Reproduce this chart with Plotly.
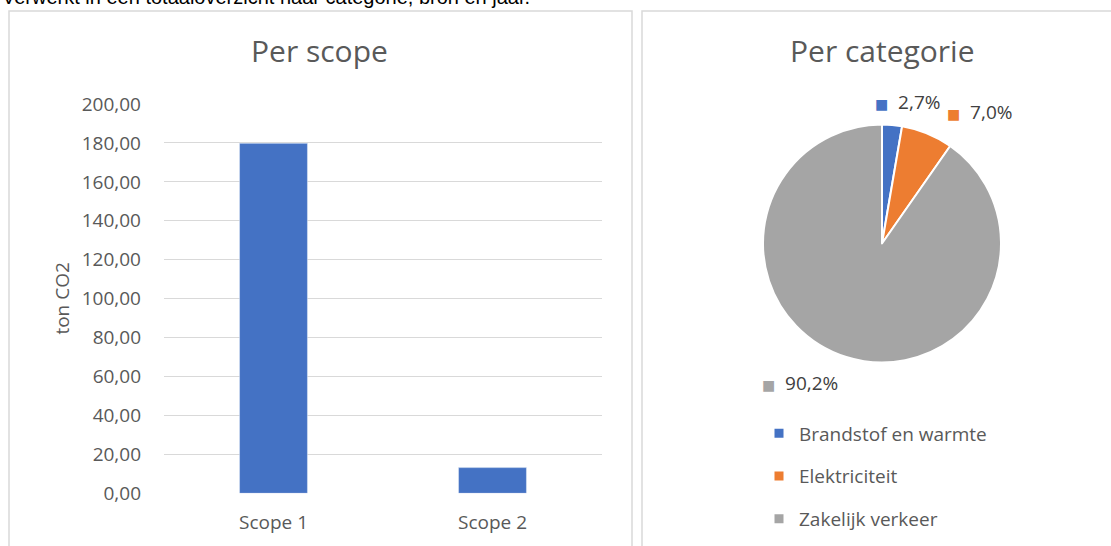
import math
import plotly.graph_objects as go

W, H = 1111, 546

# ---- data ----
scopes = ["Scope 1", "Scope 2"]
scope_values = [179.8, 13.2]
y_ticks = [0, 20, 40, 60, 80, 100, 120, 140, 160, 180, 200]

categories = ["Brandstof en warmte", "Elektriciteit", "Zakelijk verkeer"]
category_shares = [2.7, 7.0, 90.2]
category_colors = ["#4472C4", "#ED7D31", "#A5A5A5"]

intro_text = "Verwerkt in een totaaloverzicht naar categorie, bron en jaar."

# ---- styling ----
FONT = "Open Sans, DejaVu Sans, sans-serif"
GREY_TXT = "#595959"
# pixel nudges for the pie data labels (layout only)
label_nudges = [(-21, -3), (10, -3), (0, 7)]


def px_x(x):
    return x / W


def px_y(y):
    return 1 - y / H


fig = go.Figure()

# ---- bar chart ----
fig.add_trace(go.Bar(
    x=scopes, y=scope_values, marker_color="#4472C4", width=0.31,
    xaxis="x", yaxis="y", showlegend=False,
))

# ---- pie chart ----
cx, cy, r = 882, 243.5, 119
fig.add_trace(go.Pie(
    labels=categories, values=category_shares, sort=False,
    direction="clockwise", rotation=0, textinfo="none",
    marker=dict(colors=category_colors, line=dict(color="white", width=2)),
    domain=dict(x=[px_x(cx - r), px_x(cx + r)], y=[px_y(cy + r), px_y(cy - r)]),
    showlegend=False, hoverinfo="label+percent",
))

# legend entries (square keys)
for cat, col in zip(categories, category_colors):
    fig.add_trace(go.Scatter(
        x=[None], y=[None], mode="markers", name=cat, legendgroup=cat,
        marker=dict(symbol="square", size=9, color=col),
        xaxis="x2", yaxis="y2", showlegend=True,
    ))

annotations = []

# pie data labels, placed from slice mid-angles
total = sum(category_shares)
cum = 0.0
for v, col, (ndx, ndy) in zip(category_shares, category_colors, label_nudges):
    mid = (cum + v / 2) / total
    cum += v
    th = 2 * math.pi * mid
    d = r + 20
    lx = cx + d * math.sin(th) + ndx
    ly = cy - d * math.cos(th) + ndy
    label = f"{v:.1f}".replace(".", ",") + "%"
    annotations.append(dict(
        x=px_x(lx), y=px_y(ly), xref="paper", yref="paper",
        xanchor="left" if math.sin(th) >= 0 else "right", yanchor="middle",
        text=f'<span style="color:{col};font-size:14px;font-family:DejaVu Sans">■</span>  {label}',
        showarrow=False, font=dict(family=FONT, size=19, color="#404040"),
    ))

# titles
annotations.append(dict(x=px_x(319), y=px_y(50), xref="paper", yref="paper",
                        xanchor="center", yanchor="middle", text="Per scope",
                        showarrow=False, font=dict(family=FONT, size=30, color=GREY_TXT)))
annotations.append(dict(x=px_x(882), y=px_y(50), xref="paper", yref="paper",
                        xanchor="center", yanchor="middle", text="Per categorie",
                        showarrow=False, font=dict(family=FONT, size=30, color=GREY_TXT)))
# y-axis title
annotations.append(dict(x=px_x(62), y=px_y(298.6), xref="paper", yref="paper",
                        xanchor="center", yanchor="middle", text="ton CO2", textangle=-90,
                        showarrow=False, font=dict(family=FONT, size=19, color=GREY_TXT)))
# cut-off intro sentence at the very top
annotations.append(dict(x=0, y=px_y(10), xref="paper", yref="paper",
                        xanchor="left", yanchor="bottom", text=intro_text,
                        showarrow=False,
                        font=dict(family="Liberation Sans, Arial, sans-serif", size=20, color="#000000")))

# panel borders
shapes = [
    dict(type="rect", xref="paper", yref="paper", x0=px_x(9), x1=px_x(632),
         y0=-0.1, y1=px_y(11), line=dict(color="#D9D9D9", width=1.5), layer="below"),
    dict(type="rect", xref="paper", yref="paper", x0=px_x(642), x1=1.02,
         y0=-0.1, y1=px_y(11), line=dict(color="#D9D9D9", width=1.5), layer="below"),
]

fig.update_layout(
    width=W, height=H, margin=dict(l=0, r=0, t=0, b=0, autoexpand=False),
    paper_bgcolor="white", plot_bgcolor="white",
    separators=",.",
    font=dict(family=FONT, color=GREY_TXT),
    xaxis=dict(domain=[px_x(164), px_x(602)], anchor="y", showgrid=False,
               showline=False, ticks="", tickfont=dict(size=19, color=GREY_TXT),
               ticklabelstandoff=16, fixedrange=True, automargin=False),
    yaxis=dict(domain=[px_y(493.3), px_y(104)], anchor="x", range=[0, 200],
               tickvals=y_ticks, tickformat=".2f", showgrid=True,
               gridcolor="#D9D9D9", gridwidth=1, zeroline=False, showline=False,
               ticks="", tickfont=dict(size=19, color=GREY_TXT),
               ticklabelstandoff=22, fixedrange=True, automargin=False),
    xaxis2=dict(domain=[px_x(700), px_x(710)], anchor="y2", visible=False),
    yaxis2=dict(domain=[0.0, 0.02], anchor="x2", visible=False),
    showlegend=True,
    legend=dict(x=px_x(759), y=px_y(414.5), xanchor="left", yanchor="top",
                orientation="v", tracegroupgap=15,
                font=dict(family=FONT, size=19, color=GREY_TXT),
                bgcolor="rgba(0,0,0,0)"),
    annotations=annotations,
    shapes=shapes,
)

fig.write_html("out.html", config={"displayModeBar": False},
               post_script="document.body.style.margin='0';document.body.style.overflow='hidden';")
